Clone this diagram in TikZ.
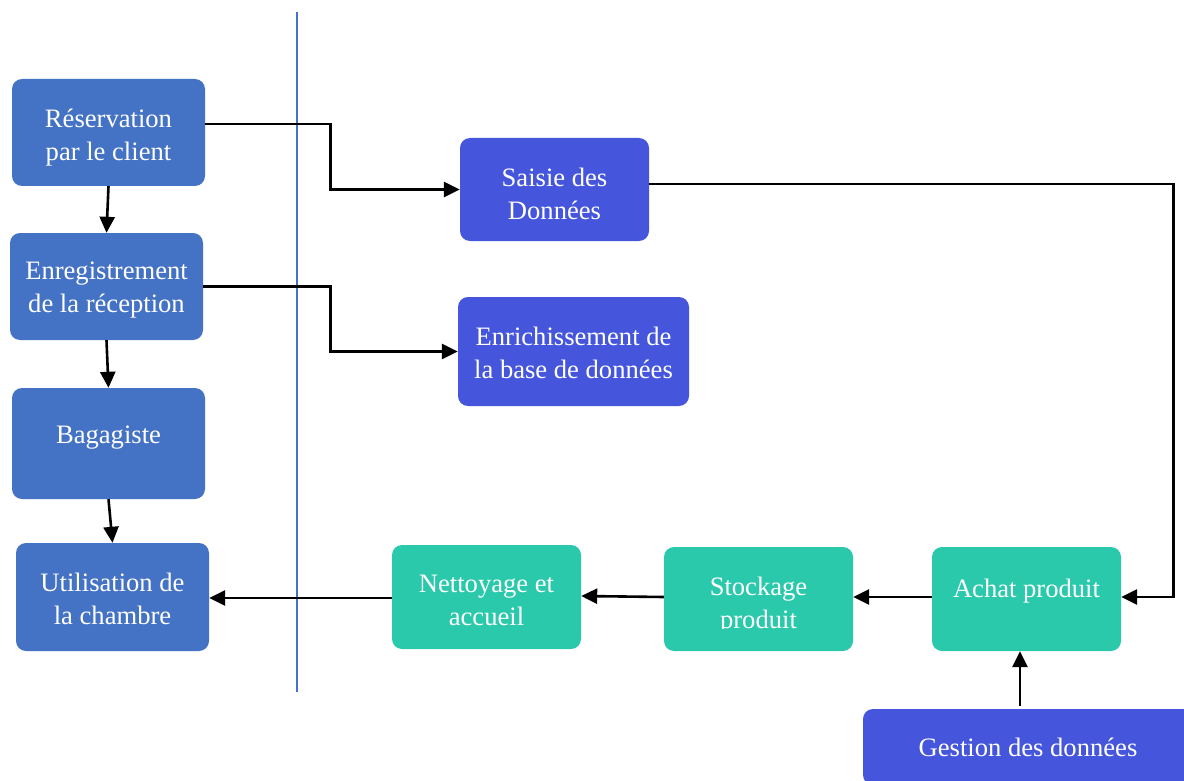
\documentclass[tikz,border=0pt]{standalone}
\usepackage{fontspec}
\setmainfont{Liberation Serif}
\usetikzlibrary{arrows.meta}
\definecolor{leftblue}{HTML}{4472C4}
\definecolor{datablue}{HTML}{4556DD}
\definecolor{opsteal}{HTML}{2BC9AB}
% centred lines of a box, moved vertically by #2 without changing the box extent
\newcommand{\boxlines}[2]{\raisebox{#2}[\height][\depth]{\begin{tabular}{@{}c@{}}#1\end{tabular}}}
\tikzset{
  box/.style={rounded corners=10pt, text=white, align=center, inner sep=0pt,
    font=\fontsize{26.6}{33}\selectfont},
  lbox/.style={box, fill=leftblue, minimum width=193pt},
  dbox/.style={box, fill=datablue},
  tbox/.style={box, fill=opsteal, minimum width=189pt, minimum height=104pt},
  flow/.style={line width=2.6pt, -{Triangle[length=16pt,width=15pt]}},
}
\begin{document}
\begin{tikzpicture}[x=1pt, y=-1pt]
  \clip (0,0) rectangle (1184,781);
  \fill[white] (0,0) rectangle (1184,781);

  % separator between the guest side and the back office
  \draw[leftblue, line width=1.2pt] (297,12) -- (297,692);

  % guest journey
  \node[lbox, minimum height=107pt] (res) at (108.5,132.5) {\boxlines{Réservation\\par le client}{-4.5pt}};
  \node[lbox, minimum height=107pt] (enr) at (106.5,286.5) {\boxlines{Enregistrement\\de la réception}{-3pt}};
  \node[lbox, minimum height=111pt] (bag) at (108.5,443.5) {\boxlines{Bagagiste}{7pt}};
  \node[lbox, minimum height=108pt] (uti) at (112.5,597) {\boxlines{Utilisation de\\la chambre}{-4pt}};

  % data handling
  \node[dbox, minimum width=189pt, minimum height=103pt] (sai) at (554.5,189.5) {\boxlines{Saisie des\\Données}{-6.5pt}};
  \node[dbox, minimum width=231pt, minimum height=109pt] (enri) at (573.5,351.5) {\boxlines{Enrichissement de\\la base de données}{-4pt}};
  \node[dbox, minimum width=330pt, minimum height=76pt] (ges) at (1028,747) {\boxlines{Gestion des données}{-3pt}};

  % operations
  \node[tbox] (net) at (486.5,597) {\boxlines{Nettoyage et\\accueil}{-5pt}};
  \fill[opsteal, rounded corners=10pt] (664,547) rectangle (853,651);
  \begin{scope}
    \clip (660,540) rectangle (860,628);
    \node[tbox, fill=none] (sto) at (758.5,599) {\boxlines{Stockage\\produit}{-6.5pt}};
  \end{scope}
  \node[tbox] (ach) at (1026.5,599) {\boxlines{Achat produit}{8pt}};

  % connectors
  \draw[flow] (res.south) -- (enr.north);
  \draw[flow] (enr.south) -- (bag.north);
  \draw[flow] (bag.south) -- (uti.north);
  \draw[flow] ([yshift=8.5pt]res.east) -- ++(125,0) |- (sai.west);
  \draw[flow] (enr.east) -- ++(127,0) |- (enri.west);
  \draw[flow] ([yshift=5.5pt]sai.east) -- ++(524,0) |- ([yshift=2pt]ach.east);
  \draw[flow] ([yshift=2pt]ach.west) -- ([yshift=2pt]sto.east);
  \draw[flow] ([yshift=2pt]sto.west) -- ([yshift=1pt]net.east);
  \draw[flow] ([yshift=-1pt]net.west) -- ([yshift=-1pt]uti.east);
  \draw[flow] ([xshift=-8pt, yshift=3pt]ges.north) -- ([xshift=-6.5pt]ach.south);
\end{tikzpicture}
\end{document}
